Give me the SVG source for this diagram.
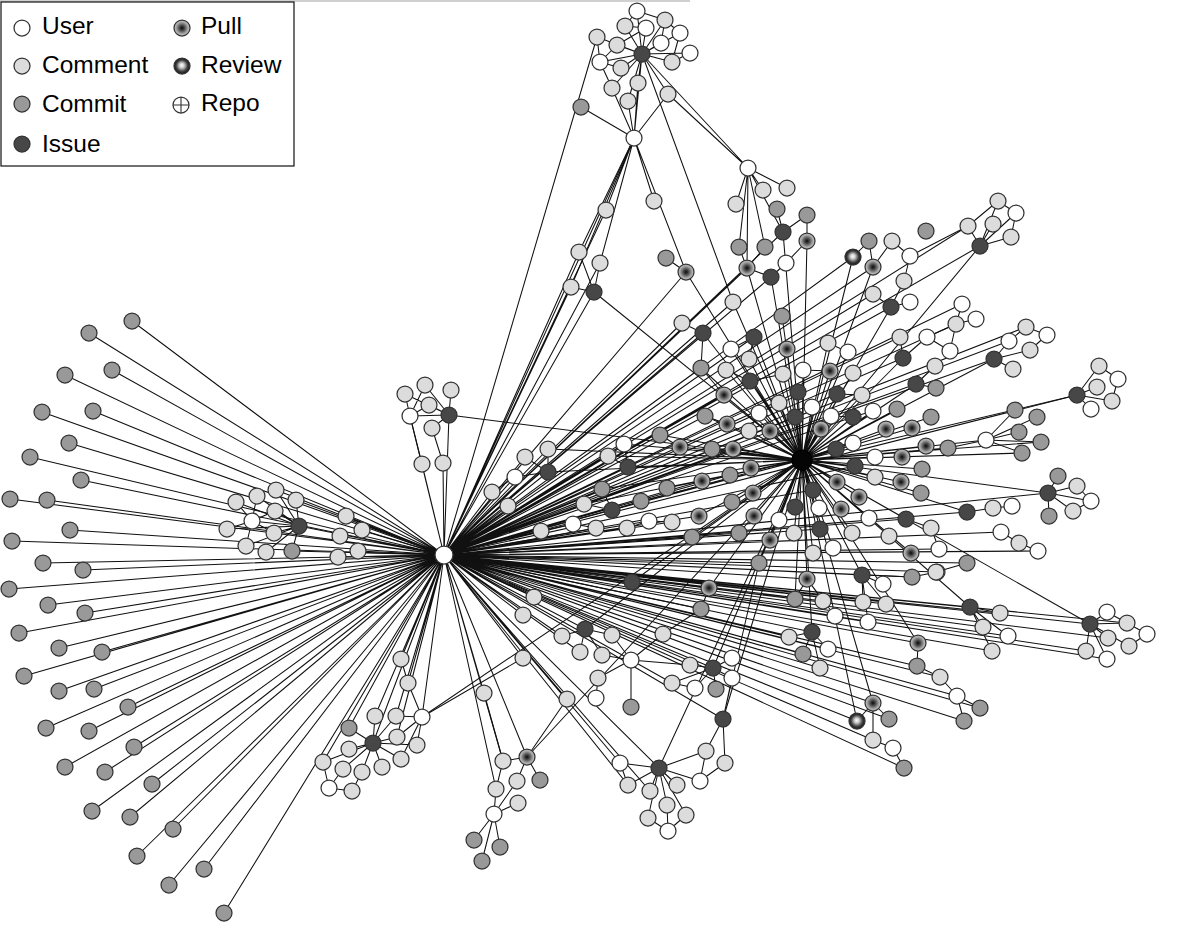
<svg xmlns="http://www.w3.org/2000/svg" width="1200" height="928" viewBox="0 0 1200 928">
<style>
.e{fill:none;stroke:#111;stroke-width:1.05}
circle{stroke:#333;stroke-width:1.25}
.u{fill:#fff}.c{fill:#dcdcdc}.m{fill:#999}.i{fill:#474747}.p{fill:url(#gp)}.r{fill:url(#gr)}.h{fill:#050505;stroke:#000}
.lt{font-family:"Liberation Sans",Arial,sans-serif;font-size:24.5px;fill:#000}
</style>
<defs>
<radialGradient id="gp" cx="0.5" cy="0.5" r="0.5"><stop offset="0" stop-color="#0a0a0a"/><stop offset="0.3" stop-color="#444"/><stop offset="0.75" stop-color="#a8a8a8"/><stop offset="1" stop-color="#c6c6c6"/></radialGradient>
<radialGradient id="gr" cx="0.5" cy="0.5" r="0.5" fx="0.48" fy="0.45"><stop offset="0" stop-color="#fff"/><stop offset="0.3" stop-color="#ccc"/><stop offset="0.7" stop-color="#444"/><stop offset="1" stop-color="#111"/></radialGradient>
</defs>
<rect width="1200" height="928" fill="#fff"/>
<line x1="0" y1="1" x2="690" y2="1" stroke="#d0d0d0" stroke-width="2"/>
<g id="connectors">
<path class="e" d="M444 555L132 321M444 555L89 333M444 555L112 370M444 555L65 375M444 555L93 411M444 555L42 412M444 555L69 443M444 555L30 457M444 555L81 480M444 555L10 499M444 555L47 500M444 555L70 530M444 555L12 541M444 555L43 563M444 555L83 570M444 555L9 589M444 555L48 605M444 555L85 613M444 555L19 633M444 555L59 648M444 555L102 652M444 555L24 676M444 555L59 691M444 555L94 689M444 555L128 707M444 555L46 728M444 555L89 731M444 555L134 747M444 555L65 767M444 555L105 772M444 555L152 784M444 555L92 811M444 555L130 817M444 555L173 829M444 555L137 856M444 555L204 869M444 555L169 885M444 555L224 913"/>
<path class="e" d="M444 555L346 516M444 555L362 530M444 555L340 536M444 555L358 551M444 555L338 557M444 555L299 526M444 555L296 500M444 555L276 490M444 555L292 551M444 555L410 416M444 555L449 415M444 555L422 464M444 555L443 463M444 555L401 659M444 555L408 683M444 555L422 717M444 555L349 728M444 555L375 716M444 555L396 716M444 555L373 743M444 555L323 762M444 555L397 737M444 555L484 693M444 555L503 761M444 555L527 757M444 555L496 789M444 555L523 615M444 555L523 658M444 555L534 597M444 555L567 699M444 555L585 629M444 555L562 636M444 555L632 582M444 555L580 652M444 555L713 668M444 555L723 719M444 555L690 665M444 555L672 683M444 555L620 763M444 555L659 768M444 555L628 785M444 555L650 791"/>
<path class="e" d="M444 555L857 721M444 555L873 740M444 555L812 632M444 555L862 575M444 555L789 637M444 555L863 602M444 555L889 719M444 555L873 703M444 555L918 643M444 555L807 579M444 555L795 599M444 555L886 604M444 555L868 622M444 555L835 616M444 555L823 601M444 555L803 654M444 555L828 649M444 555L820 668M444 555L957 696M444 555L904 768M444 555L940 677M444 555L917 666M444 555L964 721M444 555L980 708M444 555L1048 493M444 555L967 512M444 555L1090 624M444 555L970 607M444 555L1001 532M444 555L1038 551M444 555L967 563M444 555L1086 651M444 555L939 549M444 555L912 577M444 555L936 572M444 555L1108 638M444 555L983 627M444 555L1000 613M444 555L992 651M444 555L1008 636M444 555L1107 659M444 555L1127 623M444 555L813 490M444 555L820 529M444 555L855 466M444 555L836 449M444 555L906 519"/>
<path class="e" d="M444 555L980 246M444 555L891 307M444 555L903 358M444 555L916 384M444 555L994 359M444 555L1077 395M444 555L853 257M444 555L873 267M444 555L900 337M444 555L873 294M444 555L956 324M444 555L962 304M444 555L1009 341M444 555L1026 327M444 555L968 226M444 555L837 394M444 555L853 417M444 555L597 37M444 555L634 138M444 555L606 210M444 555L579 252M444 555L571 287M444 555L594 292M444 555L600 263M444 555L492 492M444 555L508 506M444 555L515 477M444 555L525 457M444 555L548 449M444 555L548 472M444 555L541 531M444 555L573 524M444 555L596 528M444 555L584 504M444 555L612 510M444 555L602 489M444 555L627 528M444 555L649 521M444 555L672 522M444 555L628 467M444 555L608 456M444 555L624 444M444 555L660 435M444 555L682 323M444 555L703 333M444 555L754 337M444 555L750 381M444 555L795 417M444 555L798 392M444 555L699 516M444 555L692 537M444 555L739 533M444 555L770 540M444 555L702 481M444 555L730 475M444 555L733 449M444 555L705 416M444 555L724 395M444 555L701 368M444 555L733 302M444 555L686 272M444 555L747 268M444 555L771 277M444 555L783 232M444 555L759 563M444 555L709 588M444 555L701 609"/>
<path class="e" d="M802 460L836 449M802 460L853 443M802 460L875 457M802 460L902 457M802 460L926 446M802 460L948 448M802 460L986 440M802 460L855 466M802 460L875 477M802 460L901 482M802 460L922 469M802 460L921 493M802 460L813 490M802 460L837 482M802 460L859 497M802 460L841 509M802 460L819 508M802 460L869 518M802 460L906 519M802 460L820 529M802 460L852 533M802 460L813 553M802 460L833 548M802 460L911 553M802 460L967 512M802 460L1048 493M802 460L1090 624M802 460L970 607M802 460L1022 453M802 460L1041 442M802 460L807 579M802 460L862 575M802 460L812 632M802 460L918 643M802 460L873 703M802 460L857 721M802 460L795 599M802 460L759 563M802 460L709 588M802 460L632 582M802 460L585 629M802 460L713 668M802 460L723 719M802 460L659 768M802 460L527 757M802 460L422 717M802 460L449 415"/>
<path class="e" d="M802 460L853 257M802 460L873 267M802 460L891 307M802 460L903 358M802 460L916 384M802 460L994 359M802 460L1077 395M802 460L980 246M802 460L830 371M802 460L853 373M802 460L848 352M802 460L828 343M802 460L803 370M802 460L837 394M802 460L862 395M802 460L812 407M802 460L831 416M802 460L853 417M802 460L873 411M802 460L897 409M802 460L931 417M802 460L886 429M802 460L912 428M802 460L821 429M802 460L798 392M802 460L807 241M802 460L783 232M802 460L771 277M802 460L747 268M802 460L686 272M802 460L594 292M802 460L782 316M802 460L787 349M802 460L754 337M802 460L703 333M802 460L731 349M802 460L733 302M802 460L701 368M802 460L750 381M802 460L724 395M802 460L779 403M802 460L759 413M802 460L795 417M802 460L705 416M802 460L727 424M802 460L749 431M802 460L770 431M802 460L783 374M802 460L726 370M802 460L749 359M802 460L660 435M802 460L680 447M802 460L712 449M802 460L733 449M802 460L628 467M802 460L624 444M802 460L608 456M802 460L548 472M802 460L730 475M802 460L751 468M802 460L702 481M802 460L667 488M802 460L602 489M802 460L641 501M802 460L612 510M802 460L732 502M802 460L753 493M802 460L699 516M802 460L692 537M802 460L739 533M802 460L754 516M802 460L779 520M802 460L770 540M802 460L795 507M802 460L794 533M802 460L584 504M802 460L548 449"/>
<path class="e" d="M299 526L236 502M299 526L257 496M299 526L276 490M299 526L296 500M299 526L275 511M299 526L227 529M299 526L274 533M299 526L246 546M299 526L266 552M299 526L292 551M299 526L252 521M252 521L236 502M252 521L257 496M252 521L227 529M252 521L246 546M252 521L275 511M252 521L274 533M449 415L425 385M449 415L451 390M449 415L429 405M449 415L432 428M449 415L405 394M410 416L405 394M410 416L425 385M410 416L429 405M410 416L449 415M410 416L422 464M432 428L443 463M373 743L349 728M373 743L375 716M373 743L396 716M373 743L349 749M373 743L397 737M373 743L417 745M373 743L343 769M373 743L362 772M373 743L382 767M373 743L401 759M373 743L323 762M329 788L323 762M329 788L343 769M329 788L352 791M352 791L362 772M422 717L396 716M422 717L397 737M422 717L417 745M422 717L401 759M422 717L408 683M401 659L408 683M422 717L523 658M527 757L503 761M527 757L540 780M527 757L517 781M527 757L567 699M494 814L496 789M494 814L517 781M494 814L518 803M494 814L474 840M494 814L500 847M494 814L482 861M484 693L503 761M503 761L496 789"/>
<path class="e" d="M585 629L562 636M585 629L612 635M585 629L580 652M585 629L602 655M631 660L612 635M631 660L602 655M631 660L598 678M631 660L631 707M631 660L663 634M596 698L598 678M663 634L701 609M701 609L709 588M631 660L690 665M713 668L690 665M713 668L732 658M713 668L672 683M713 668L695 688M713 668L716 689M713 668L732 678M695 688L672 683M723 719L732 678M723 719L706 751M723 719L725 763M723 719L759 563M659 768L620 763M659 768L628 785M659 768L650 791M659 768L677 785M659 768L700 781M659 768L706 751M659 768L667 805M659 768L648 818M659 768L686 815M668 831L648 818M668 831L686 815M668 831L667 805M700 781L706 751M700 781L725 763M620 763L628 785M807 579L795 599M807 579L823 601M807 579L835 616M862 575L883 584M862 575L863 602M862 575L886 604M862 575L868 622M862 575L912 577M937 572L912 577M812 632L789 637M812 632L803 654M812 632L828 649M812 632L820 668M918 643L917 666M917 666L940 677M940 677L957 696M957 696L980 708M957 696L964 721M873 703L857 721M873 703L889 719M873 703L873 740M873 740L893 748M893 748L904 768"/>
<path class="e" d="M1048 493L1058 476M1048 493L1077 486M1048 493L1091 501M1048 493L1073 511M1048 493L1049 516M1091 501L1077 486M1091 501L1073 511M967 512L993 508M993 508L1012 506M906 519L931 528M931 528L939 549M1001 532L1019 543M1019 543L1038 551M967 563L936 572M970 607L1000 613M970 607L983 627M970 607L1008 636M970 607L992 651M1090 624L1107 612M1090 624L1127 623M1090 624L1108 638M1090 624L1129 646M1090 624L1086 651M1090 624L1107 659M1147 634L1127 623M1147 634L1129 646M1107 612L1127 623M986 440L1015 410M986 440L1037 417M986 440L1019 432M986 440L1041 442M986 440L1022 453M986 440L948 448M980 246L968 226M980 246L998 201M980 246L993 224M980 246L1011 237M980 246L1016 213M1016 213L998 201M1016 213L1011 237M968 226L998 201M910 256L968 226M910 256L892 241M910 256L904 281M891 307L873 294M891 307L910 302M891 307L904 281M853 257L869 241M873 267L869 241M873 267L892 241M903 358L900 337M903 358L927 337M927 337L956 324M962 304L956 324M976 319L956 324M950 351L927 337M956 324L950 351M916 384L936 388M916 384L935 366M994 359L1009 341M994 359L1013 369M994 359L1030 350M1047 335L1026 327M1047 335L1030 350M1009 341L1026 327M1077 395L1099 366M1077 395L1097 387M1077 395L1112 401M1077 395L1091 409M1118 379L1099 366M1118 379L1112 401M837 394L862 395M853 417L873 411M853 417L831 416M828 343L848 352M830 371L803 370"/>
<path class="e" d="M642 54L637 11M642 54L625 26M642 54L665 20M642 54L646 28M642 54L680 33M642 54L597 37M642 54L617 45M642 54L661 43M642 54L690 53M642 54L600 62M642 54L621 68M642 54L672 62M642 54L612 88M642 54L638 83M642 54L628 101M642 54L668 94M642 54L634 138M642 54L748 168M642 54L733 302M637 11L625 26M637 11L665 20M646 28L625 26M646 28L617 45M680 33L665 20M680 33L672 62M661 43L665 20M690 53L672 62M600 62L597 37M600 62L617 45M600 62L612 88M600 62L621 68M634 138L612 88M634 138L628 101M634 138L638 83M634 138L668 94M634 138L581 107M634 138L606 210M634 138L600 263M634 138L571 287M634 138L579 252M634 138L654 201M634 138L686 272M668 94L748 168M748 168L763 190M748 168L787 188M748 168L736 204M748 168L739 247M748 168L765 247M748 168L783 232M748 168L747 268M777 209L783 232M783 232L807 215M807 241L807 215M807 241L786 263M771 277L786 263M771 277L747 268M747 268L739 247M747 268L765 247M666 258L686 272M579 252L594 292M600 263L594 292M571 287L594 292M680 447L660 435M733 449L712 449M628 467L608 456M628 467L624 444M548 472L525 457M548 472L548 449M548 472L515 477M612 510L584 504M612 510L641 501M612 510L602 489M703 333L682 323M703 333L701 368M754 337L749 359M754 337L731 349M750 381L726 370M750 381L783 374M759 413L779 403M759 413L749 431M727 424L705 416M724 395L701 368M649 521L627 528M649 521L672 522M573 524L541 531M573 524L596 528M515 477L492 492"/>
</g>
<g id="nodes">
<g id="n001"><circle class="m" cx="132" cy="321" r="8"/></g>
<g id="n002"><circle class="m" cx="89" cy="333" r="8"/></g>
<g id="n003"><circle class="m" cx="112" cy="370" r="8"/></g>
<g id="n004"><circle class="m" cx="65" cy="375" r="8"/></g>
<g id="n005"><circle class="m" cx="93" cy="411" r="8"/></g>
<g id="n006"><circle class="m" cx="42" cy="412" r="8"/></g>
<g id="n007"><circle class="m" cx="69" cy="443" r="8"/></g>
<g id="n008"><circle class="m" cx="30" cy="457" r="8"/></g>
<g id="n009"><circle class="m" cx="81" cy="480" r="8"/></g>
<g id="n010"><circle class="m" cx="10" cy="499" r="8"/></g>
<g id="n011"><circle class="m" cx="47" cy="500" r="8"/></g>
<g id="n012"><circle class="m" cx="70" cy="530" r="8"/></g>
<g id="n013"><circle class="m" cx="12" cy="541" r="8"/></g>
<g id="n014"><circle class="m" cx="43" cy="563" r="8"/></g>
<g id="n015"><circle class="m" cx="83" cy="570" r="8"/></g>
<g id="n016"><circle class="m" cx="9" cy="589" r="8"/></g>
<g id="n017"><circle class="m" cx="48" cy="605" r="8"/></g>
<g id="n018"><circle class="m" cx="85" cy="613" r="8"/></g>
<g id="n019"><circle class="m" cx="19" cy="633" r="8"/></g>
<g id="n020"><circle class="m" cx="59" cy="648" r="8"/></g>
<g id="n021"><circle class="m" cx="102" cy="652" r="8"/></g>
<g id="n022"><circle class="m" cx="24" cy="676" r="8"/></g>
<g id="n023"><circle class="m" cx="59" cy="691" r="8"/></g>
<g id="n024"><circle class="m" cx="94" cy="689" r="8"/></g>
<g id="n025"><circle class="m" cx="128" cy="707" r="8"/></g>
<g id="n026"><circle class="m" cx="46" cy="728" r="8"/></g>
<g id="n027"><circle class="m" cx="89" cy="731" r="8"/></g>
<g id="n028"><circle class="m" cx="134" cy="747" r="8"/></g>
<g id="n029"><circle class="m" cx="65" cy="767" r="8"/></g>
<g id="n030"><circle class="m" cx="105" cy="772" r="8"/></g>
<g id="n031"><circle class="m" cx="152" cy="784" r="8"/></g>
<g id="n032"><circle class="m" cx="92" cy="811" r="8"/></g>
<g id="n033"><circle class="m" cx="130" cy="817" r="8"/></g>
<g id="n034"><circle class="m" cx="173" cy="829" r="8"/></g>
<g id="n035"><circle class="m" cx="137" cy="856" r="8"/></g>
<g id="n036"><circle class="m" cx="204" cy="869" r="8"/></g>
<g id="n037"><circle class="m" cx="169" cy="885" r="8"/></g>
<g id="n038"><circle class="m" cx="224" cy="913" r="8"/></g>
<g id="n039"><circle class="c" cx="236" cy="502" r="8"/></g>
<g id="n040"><circle class="c" cx="257" cy="496" r="8"/></g>
<g id="n041"><circle class="c" cx="276" cy="490" r="8"/></g>
<g id="n042"><circle class="c" cx="296" cy="500" r="8"/></g>
<g id="n043"><circle class="c" cx="275" cy="511" r="8"/></g>
<g id="n044"><circle class="u" cx="252" cy="521" r="8"/></g>
<g id="n045"><circle class="c" cx="227" cy="529" r="8"/></g>
<g id="n046"><circle class="i" cx="299" cy="526" r="8"/></g>
<g id="n047"><circle class="c" cx="274" cy="533" r="8"/></g>
<g id="n048"><circle class="c" cx="246" cy="546" r="8"/></g>
<g id="n049"><circle class="c" cx="266" cy="552" r="8"/></g>
<g id="n050"><circle class="m" cx="292" cy="551" r="8"/></g>
<g id="n051"><circle class="c" cx="346" cy="516" r="8"/></g>
<g id="n052"><circle class="c" cx="362" cy="530" r="8"/></g>
<g id="n053"><circle class="c" cx="340" cy="536" r="8"/></g>
<g id="n054"><circle class="c" cx="358" cy="551" r="8"/></g>
<g id="n055"><circle class="c" cx="338" cy="557" r="8"/></g>
<g id="n056"><circle class="c" cx="405" cy="394" r="8"/></g>
<g id="n057"><circle class="c" cx="425" cy="385" r="8"/></g>
<g id="n058"><circle class="c" cx="451" cy="390" r="8"/></g>
<g id="n059"><circle class="c" cx="429" cy="405" r="8"/></g>
<g id="n060"><circle class="u" cx="410" cy="416" r="8"/></g>
<g id="n061"><circle class="i" cx="449" cy="415" r="8"/></g>
<g id="n062"><circle class="c" cx="432" cy="428" r="8"/></g>
<g id="n063"><circle class="c" cx="422" cy="464" r="8"/></g>
<g id="n064"><circle class="c" cx="443" cy="463" r="8"/></g>
<g id="n065"><circle class="c" cx="401" cy="659" r="8"/></g>
<g id="n066"><circle class="c" cx="408" cy="683" r="8"/></g>
<g id="n067"><circle class="u" cx="422" cy="717" r="8"/></g>
<g id="n068"><circle class="m" cx="349" cy="728" r="8"/></g>
<g id="n069"><circle class="c" cx="375" cy="716" r="8"/></g>
<g id="n070"><circle class="c" cx="396" cy="716" r="8"/></g>
<g id="n071"><circle class="i" cx="373" cy="743" r="8"/></g>
<g id="n072"><circle class="c" cx="349" cy="749" r="8"/></g>
<g id="n073"><circle class="c" cx="397" cy="737" r="8"/></g>
<g id="n074"><circle class="c" cx="417" cy="745" r="8"/></g>
<g id="n075"><circle class="c" cx="323" cy="762" r="8"/></g>
<g id="n076"><circle class="c" cx="343" cy="769" r="8"/></g>
<g id="n077"><circle class="c" cx="362" cy="772" r="8"/></g>
<g id="n078"><circle class="c" cx="382" cy="767" r="8"/></g>
<g id="n079"><circle class="c" cx="401" cy="759" r="8"/></g>
<g id="n080"><circle class="u" cx="329" cy="788" r="8"/></g>
<g id="n081"><circle class="c" cx="352" cy="791" r="8"/></g>
<g id="n082"><circle class="c" cx="534" cy="597" r="8"/></g>
<g id="n083"><circle class="c" cx="523" cy="615" r="8"/></g>
<g id="n084"><circle class="c" cx="523" cy="658" r="8"/></g>
<g id="n085"><circle class="c" cx="484" cy="693" r="8"/></g>
<g id="n086"><circle class="c" cx="567" cy="699" r="8"/></g>
<g id="n087"><circle class="c" cx="503" cy="761" r="8"/></g>
<g id="n088"><circle class="p" cx="527" cy="757" r="8"/></g>
<g id="n089"><circle class="m" cx="540" cy="780" r="8"/></g>
<g id="n090"><circle class="c" cx="496" cy="789" r="8"/></g>
<g id="n091"><circle class="c" cx="517" cy="781" r="8"/></g>
<g id="n092"><circle class="c" cx="518" cy="803" r="8"/></g>
<g id="n093"><circle class="u" cx="494" cy="814" r="8"/></g>
<g id="n094"><circle class="m" cx="474" cy="840" r="8"/></g>
<g id="n095"><circle class="m" cx="500" cy="847" r="8"/></g>
<g id="n096"><circle class="m" cx="482" cy="861" r="8"/></g>
<g id="n097"><circle class="i" cx="585" cy="629" r="8"/></g>
<g id="n098"><circle class="c" cx="562" cy="636" r="8"/></g>
<g id="n099"><circle class="c" cx="612" cy="635" r="8"/></g>
<g id="n100"><circle class="c" cx="580" cy="652" r="8"/></g>
<g id="n101"><circle class="c" cx="602" cy="655" r="8"/></g>
<g id="n102"><circle class="u" cx="631" cy="660" r="8"/></g>
<g id="n103"><circle class="c" cx="598" cy="678" r="8"/></g>
<g id="n104"><circle class="u" cx="596" cy="698" r="8"/></g>
<g id="n105"><circle class="m" cx="631" cy="707" r="8"/></g>
<g id="n106"><circle class="c" cx="663" cy="634" r="8"/></g>
<g id="n107"><circle class="m" cx="701" cy="609" r="8"/></g>
<g id="n108"><circle class="i" cx="632" cy="582" r="8"/></g>
<g id="n109"><circle class="p" cx="709" cy="588" r="8"/></g>
<g id="n110"><circle class="m" cx="759" cy="563" r="8"/></g>
<g id="n111"><circle class="c" cx="690" cy="665" r="8"/></g>
<g id="n112"><circle class="i" cx="713" cy="668" r="8"/></g>
<g id="n113"><circle class="u" cx="732" cy="658" r="8"/></g>
<g id="n114"><circle class="c" cx="672" cy="683" r="8"/></g>
<g id="n115"><circle class="u" cx="695" cy="688" r="8"/></g>
<g id="n116"><circle class="m" cx="716" cy="689" r="8"/></g>
<g id="n117"><circle class="u" cx="732" cy="678" r="8"/></g>
<g id="n118"><circle class="i" cx="723" cy="719" r="8"/></g>
<g id="n119"><circle class="u" cx="620" cy="763" r="8"/></g>
<g id="n120"><circle class="i" cx="659" cy="768" r="8"/></g>
<g id="n121"><circle class="c" cx="628" cy="785" r="8"/></g>
<g id="n122"><circle class="c" cx="650" cy="791" r="8"/></g>
<g id="n123"><circle class="c" cx="677" cy="785" r="8"/></g>
<g id="n124"><circle class="u" cx="700" cy="781" r="8"/></g>
<g id="n125"><circle class="c" cx="706" cy="751" r="8"/></g>
<g id="n126"><circle class="c" cx="725" cy="763" r="8"/></g>
<g id="n127"><circle class="c" cx="667" cy="805" r="8"/></g>
<g id="n128"><circle class="c" cx="648" cy="818" r="8"/></g>
<g id="n129"><circle class="c" cx="686" cy="815" r="8"/></g>
<g id="n130"><circle class="u" cx="668" cy="831" r="8"/></g>
<g id="n131"><circle class="p" cx="807" cy="579" r="8"/></g>
<g id="n132"><circle class="i" cx="862" cy="575" r="8"/></g>
<g id="n133"><circle class="u" cx="883" cy="584" r="8"/></g>
<g id="n134"><circle class="m" cx="912" cy="577" r="8"/></g>
<g id="n135"><circle class="c" cx="937" cy="572" r="8"/></g>
<g id="n136"><circle class="m" cx="795" cy="599" r="8"/></g>
<g id="n137"><circle class="c" cx="823" cy="601" r="8"/></g>
<g id="n138"><circle class="u" cx="835" cy="616" r="8"/></g>
<g id="n139"><circle class="c" cx="863" cy="602" r="8"/></g>
<g id="n140"><circle class="c" cx="886" cy="604" r="8"/></g>
<g id="n141"><circle class="u" cx="868" cy="622" r="8"/></g>
<g id="n142"><circle class="c" cx="789" cy="637" r="8"/></g>
<g id="n143"><circle class="i" cx="812" cy="632" r="8"/></g>
<g id="n144"><circle class="m" cx="803" cy="654" r="8"/></g>
<g id="n145"><circle class="u" cx="828" cy="649" r="8"/></g>
<g id="n146"><circle class="c" cx="820" cy="668" r="8"/></g>
<g id="n147"><circle class="p" cx="918" cy="643" r="8"/></g>
<g id="n148"><circle class="m" cx="917" cy="666" r="8"/></g>
<g id="n149"><circle class="c" cx="940" cy="677" r="8"/></g>
<g id="n150"><circle class="u" cx="957" cy="696" r="8"/></g>
<g id="n151"><circle class="m" cx="980" cy="708" r="8"/></g>
<g id="n152"><circle class="m" cx="964" cy="721" r="8"/></g>
<g id="n153"><circle class="p" cx="873" cy="703" r="8"/></g>
<g id="n154"><circle class="r" cx="857" cy="721" r="8"/></g>
<g id="n155"><circle class="m" cx="889" cy="719" r="8"/></g>
<g id="n156"><circle class="c" cx="873" cy="740" r="8"/></g>
<g id="n157"><circle class="u" cx="893" cy="748" r="8"/></g>
<g id="n158"><circle class="m" cx="904" cy="768" r="8"/></g>
<g id="n159"><circle class="i" cx="836" cy="449" r="8"/></g>
<g id="n160"><circle class="u" cx="853" cy="443" r="8"/></g>
<g id="n161"><circle class="u" cx="875" cy="457" r="8"/></g>
<g id="n162"><circle class="p" cx="902" cy="457" r="8"/></g>
<g id="n163"><circle class="p" cx="926" cy="446" r="8"/></g>
<g id="n164"><circle class="m" cx="948" cy="448" r="8"/></g>
<g id="n165"><circle class="u" cx="986" cy="440" r="8"/></g>
<g id="n166"><circle class="m" cx="1022" cy="453" r="8"/></g>
<g id="n167"><circle class="m" cx="1041" cy="442" r="8"/></g>
<g id="n168"><circle class="m" cx="1015" cy="410" r="8"/></g>
<g id="n169"><circle class="m" cx="1037" cy="417" r="8"/></g>
<g id="n170"><circle class="m" cx="1019" cy="432" r="8"/></g>
<g id="n171"><circle class="i" cx="855" cy="466" r="8"/></g>
<g id="n172"><circle class="c" cx="875" cy="477" r="8"/></g>
<g id="n173"><circle class="p" cx="901" cy="482" r="8"/></g>
<g id="n174"><circle class="m" cx="922" cy="469" r="8"/></g>
<g id="n175"><circle class="m" cx="921" cy="493" r="8"/></g>
<g id="n176"><circle class="i" cx="813" cy="490" r="8"/></g>
<g id="n177"><circle class="p" cx="837" cy="482" r="8"/></g>
<g id="n178"><circle class="p" cx="859" cy="497" r="8"/></g>
<g id="n179"><circle class="p" cx="841" cy="509" r="8"/></g>
<g id="n180"><circle class="u" cx="819" cy="508" r="8"/></g>
<g id="n181"><circle class="u" cx="869" cy="518" r="8"/></g>
<g id="n182"><circle class="i" cx="906" cy="519" r="8"/></g>
<g id="n183"><circle class="c" cx="931" cy="528" r="8"/></g>
<g id="n184"><circle class="i" cx="967" cy="512" r="8"/></g>
<g id="n185"><circle class="c" cx="993" cy="508" r="8"/></g>
<g id="n186"><circle class="u" cx="1012" cy="506" r="8"/></g>
<g id="n187"><circle class="i" cx="1048" cy="493" r="8"/></g>
<g id="n188"><circle class="m" cx="1058" cy="476" r="8"/></g>
<g id="n189"><circle class="c" cx="1077" cy="486" r="8"/></g>
<g id="n190"><circle class="u" cx="1091" cy="501" r="8"/></g>
<g id="n191"><circle class="c" cx="1073" cy="511" r="8"/></g>
<g id="n192"><circle class="m" cx="1049" cy="516" r="8"/></g>
<g id="n193"><circle class="i" cx="820" cy="529" r="8"/></g>
<g id="n194"><circle class="c" cx="852" cy="533" r="8"/></g>
<g id="n195"><circle class="c" cx="889" cy="536" r="8"/></g>
<g id="n196"><circle class="c" cx="813" cy="553" r="8"/></g>
<g id="n197"><circle class="u" cx="833" cy="548" r="8"/></g>
<g id="n198"><circle class="p" cx="911" cy="553" r="8"/></g>
<g id="n199"><circle class="u" cx="939" cy="549" r="8"/></g>
<g id="n200"><circle class="c" cx="936" cy="572" r="8"/></g>
<g id="n201"><circle class="m" cx="967" cy="563" r="8"/></g>
<g id="n202"><circle class="u" cx="1001" cy="532" r="8"/></g>
<g id="n203"><circle class="c" cx="1019" cy="543" r="8"/></g>
<g id="n204"><circle class="u" cx="1038" cy="551" r="8"/></g>
<g id="n205"><circle class="i" cx="970" cy="607" r="8"/></g>
<g id="n206"><circle class="c" cx="1000" cy="613" r="8"/></g>
<g id="n207"><circle class="c" cx="983" cy="627" r="8"/></g>
<g id="n208"><circle class="u" cx="1008" cy="636" r="8"/></g>
<g id="n209"><circle class="c" cx="992" cy="651" r="8"/></g>
<g id="n210"><circle class="i" cx="1090" cy="624" r="8"/></g>
<g id="n211"><circle class="u" cx="1107" cy="612" r="8"/></g>
<g id="n212"><circle class="c" cx="1127" cy="623" r="8"/></g>
<g id="n213"><circle class="u" cx="1147" cy="634" r="8"/></g>
<g id="n214"><circle class="c" cx="1108" cy="638" r="8"/></g>
<g id="n215"><circle class="c" cx="1129" cy="646" r="8"/></g>
<g id="n216"><circle class="c" cx="1086" cy="651" r="8"/></g>
<g id="n217"><circle class="u" cx="1107" cy="659" r="8"/></g>
<g id="n218"><circle class="m" cx="807" cy="215" r="8"/></g>
<g id="n219"><circle class="p" cx="807" cy="241" r="8"/></g>
<g id="n220"><circle class="m" cx="869" cy="241" r="8"/></g>
<g id="n221"><circle class="c" cx="892" cy="241" r="8"/></g>
<g id="n222"><circle class="m" cx="926" cy="231" r="8"/></g>
<g id="n223"><circle class="r" cx="853" cy="257" r="8"/></g>
<g id="n224"><circle class="p" cx="873" cy="267" r="8"/></g>
<g id="n225"><circle class="u" cx="910" cy="256" r="8"/></g>
<g id="n226"><circle class="c" cx="904" cy="281" r="8"/></g>
<g id="n227"><circle class="c" cx="873" cy="294" r="8"/></g>
<g id="n228"><circle class="i" cx="891" cy="307" r="8"/></g>
<g id="n229"><circle class="u" cx="910" cy="302" r="8"/></g>
<g id="n230"><circle class="c" cx="968" cy="226" r="8"/></g>
<g id="n231"><circle class="c" cx="998" cy="201" r="8"/></g>
<g id="n232"><circle class="u" cx="1016" cy="213" r="8"/></g>
<g id="n233"><circle class="c" cx="993" cy="224" r="8"/></g>
<g id="n234"><circle class="i" cx="980" cy="246" r="8"/></g>
<g id="n235"><circle class="c" cx="1011" cy="237" r="8"/></g>
<g id="n236"><circle class="u" cx="962" cy="304" r="8"/></g>
<g id="n237"><circle class="u" cx="976" cy="319" r="8"/></g>
<g id="n238"><circle class="c" cx="956" cy="324" r="8"/></g>
<g id="n239"><circle class="c" cx="900" cy="337" r="8"/></g>
<g id="n240"><circle class="u" cx="927" cy="337" r="8"/></g>
<g id="n241"><circle class="u" cx="950" cy="351" r="8"/></g>
<g id="n242"><circle class="i" cx="903" cy="358" r="8"/></g>
<g id="n243"><circle class="c" cx="935" cy="366" r="8"/></g>
<g id="n244"><circle class="i" cx="916" cy="384" r="8"/></g>
<g id="n245"><circle class="m" cx="936" cy="388" r="8"/></g>
<g id="n246"><circle class="c" cx="1026" cy="327" r="8"/></g>
<g id="n247"><circle class="u" cx="1047" cy="335" r="8"/></g>
<g id="n248"><circle class="u" cx="1009" cy="341" r="8"/></g>
<g id="n249"><circle class="c" cx="1030" cy="350" r="8"/></g>
<g id="n250"><circle class="i" cx="994" cy="359" r="8"/></g>
<g id="n251"><circle class="c" cx="1013" cy="369" r="8"/></g>
<g id="n252"><circle class="c" cx="828" cy="343" r="8"/></g>
<g id="n253"><circle class="u" cx="848" cy="352" r="8"/></g>
<g id="n254"><circle class="u" cx="803" cy="370" r="8"/></g>
<g id="n255"><circle class="p" cx="830" cy="371" r="8"/></g>
<g id="n256"><circle class="c" cx="853" cy="373" r="8"/></g>
<g id="n257"><circle class="i" cx="798" cy="392" r="8"/></g>
<g id="n258"><circle class="i" cx="837" cy="394" r="8"/></g>
<g id="n259"><circle class="c" cx="862" cy="395" r="8"/></g>
<g id="n260"><circle class="u" cx="812" cy="407" r="8"/></g>
<g id="n261"><circle class="u" cx="831" cy="416" r="8"/></g>
<g id="n262"><circle class="i" cx="853" cy="417" r="8"/></g>
<g id="n263"><circle class="u" cx="873" cy="411" r="8"/></g>
<g id="n264"><circle class="m" cx="897" cy="409" r="8"/></g>
<g id="n265"><circle class="m" cx="931" cy="417" r="8"/></g>
<g id="n266"><circle class="p" cx="886" cy="429" r="8"/></g>
<g id="n267"><circle class="p" cx="912" cy="428" r="8"/></g>
<g id="n268"><circle class="p" cx="821" cy="429" r="8"/></g>
<g id="n269"><circle class="c" cx="1099" cy="366" r="8"/></g>
<g id="n270"><circle class="u" cx="1118" cy="379" r="8"/></g>
<g id="n271"><circle class="c" cx="1097" cy="387" r="8"/></g>
<g id="n272"><circle class="c" cx="1112" cy="401" r="8"/></g>
<g id="n273"><circle class="u" cx="1091" cy="409" r="8"/></g>
<g id="n274"><circle class="i" cx="1077" cy="395" r="8"/></g>
<g id="n275"><circle class="u" cx="637" cy="11" r="8"/></g>
<g id="n276"><circle class="c" cx="625" cy="26" r="8"/></g>
<g id="n277"><circle class="c" cx="665" cy="20" r="8"/></g>
<g id="n278"><circle class="u" cx="646" cy="28" r="8"/></g>
<g id="n279"><circle class="u" cx="680" cy="33" r="8"/></g>
<g id="n280"><circle class="c" cx="597" cy="37" r="8"/></g>
<g id="n281"><circle class="c" cx="617" cy="45" r="8"/></g>
<g id="n282"><circle class="u" cx="661" cy="43" r="8"/></g>
<g id="n283"><circle class="i" cx="642" cy="54" r="8"/></g>
<g id="n284"><circle class="u" cx="690" cy="53" r="8"/></g>
<g id="n285"><circle class="u" cx="600" cy="62" r="8"/></g>
<g id="n286"><circle class="c" cx="621" cy="68" r="8"/></g>
<g id="n287"><circle class="c" cx="672" cy="62" r="8"/></g>
<g id="n288"><circle class="c" cx="612" cy="88" r="8"/></g>
<g id="n289"><circle class="c" cx="638" cy="83" r="8"/></g>
<g id="n290"><circle class="c" cx="628" cy="101" r="8"/></g>
<g id="n291"><circle class="c" cx="668" cy="94" r="8"/></g>
<g id="n292"><circle class="m" cx="581" cy="107" r="8"/></g>
<g id="n293"><circle class="u" cx="634" cy="138" r="8"/></g>
<g id="n294"><circle class="u" cx="748" cy="168" r="8"/></g>
<g id="n295"><circle class="c" cx="763" cy="190" r="8"/></g>
<g id="n296"><circle class="c" cx="787" cy="188" r="8"/></g>
<g id="n297"><circle class="c" cx="736" cy="204" r="8"/></g>
<g id="n298"><circle class="m" cx="777" cy="209" r="8"/></g>
<g id="n299"><circle class="i" cx="783" cy="232" r="8"/></g>
<g id="n300"><circle class="m" cx="739" cy="247" r="8"/></g>
<g id="n301"><circle class="m" cx="765" cy="247" r="8"/></g>
<g id="n302"><circle class="p" cx="747" cy="268" r="8"/></g>
<g id="n303"><circle class="i" cx="771" cy="277" r="8"/></g>
<g id="n304"><circle class="u" cx="786" cy="263" r="8"/></g>
<g id="n305"><circle class="c" cx="654" cy="201" r="8"/></g>
<g id="n306"><circle class="c" cx="606" cy="210" r="8"/></g>
<g id="n307"><circle class="c" cx="579" cy="252" r="8"/></g>
<g id="n308"><circle class="c" cx="600" cy="263" r="8"/></g>
<g id="n309"><circle class="c" cx="571" cy="287" r="8"/></g>
<g id="n310"><circle class="i" cx="594" cy="292" r="8"/></g>
<g id="n311"><circle class="m" cx="666" cy="258" r="8"/></g>
<g id="n312"><circle class="p" cx="686" cy="272" r="8"/></g>
<g id="n313"><circle class="c" cx="733" cy="302" r="8"/></g>
<g id="n314"><circle class="c" cx="682" cy="323" r="8"/></g>
<g id="n315"><circle class="i" cx="703" cy="333" r="8"/></g>
<g id="n316"><circle class="u" cx="731" cy="349" r="8"/></g>
<g id="n317"><circle class="i" cx="754" cy="337" r="8"/></g>
<g id="n318"><circle class="m" cx="782" cy="316" r="8"/></g>
<g id="n319"><circle class="p" cx="787" cy="349" r="8"/></g>
<g id="n320"><circle class="m" cx="701" cy="368" r="8"/></g>
<g id="n321"><circle class="c" cx="726" cy="370" r="8"/></g>
<g id="n322"><circle class="c" cx="749" cy="359" r="8"/></g>
<g id="n323"><circle class="i" cx="750" cy="381" r="8"/></g>
<g id="n324"><circle class="c" cx="783" cy="374" r="8"/></g>
<g id="n325"><circle class="p" cx="724" cy="395" r="8"/></g>
<g id="n326"><circle class="c" cx="779" cy="403" r="8"/></g>
<g id="n327"><circle class="u" cx="759" cy="413" r="8"/></g>
<g id="n328"><circle class="i" cx="795" cy="417" r="8"/></g>
<g id="n329"><circle class="m" cx="705" cy="416" r="8"/></g>
<g id="n330"><circle class="p" cx="727" cy="424" r="8"/></g>
<g id="n331"><circle class="c" cx="749" cy="431" r="8"/></g>
<g id="n332"><circle class="p" cx="770" cy="431" r="8"/></g>
<g id="n333"><circle class="m" cx="660" cy="435" r="8"/></g>
<g id="n334"><circle class="p" cx="680" cy="447" r="8"/></g>
<g id="n335"><circle class="m" cx="712" cy="449" r="8"/></g>
<g id="n336"><circle class="p" cx="733" cy="449" r="8"/></g>
<g id="n337"><circle class="u" cx="624" cy="444" r="8"/></g>
<g id="n338"><circle class="c" cx="608" cy="456" r="8"/></g>
<g id="n339"><circle class="i" cx="628" cy="467" r="8"/></g>
<g id="n340"><circle class="c" cx="548" cy="449" r="8"/></g>
<g id="n341"><circle class="c" cx="525" cy="457" r="8"/></g>
<g id="n342"><circle class="u" cx="515" cy="477" r="8"/></g>
<g id="n343"><circle class="i" cx="548" cy="472" r="8"/></g>
<g id="n344"><circle class="c" cx="492" cy="492" r="8"/></g>
<g id="n345"><circle class="c" cx="508" cy="506" r="8"/></g>
<g id="n346"><circle class="m" cx="730" cy="475" r="8"/></g>
<g id="n347"><circle class="p" cx="751" cy="468" r="8"/></g>
<g id="n348"><circle class="p" cx="702" cy="481" r="8"/></g>
<g id="n349"><circle class="m" cx="667" cy="488" r="8"/></g>
<g id="n350"><circle class="m" cx="602" cy="489" r="8"/></g>
<g id="n351"><circle class="m" cx="641" cy="501" r="8"/></g>
<g id="n352"><circle class="c" cx="584" cy="504" r="8"/></g>
<g id="n353"><circle class="i" cx="612" cy="510" r="8"/></g>
<g id="n354"><circle class="m" cx="732" cy="502" r="8"/></g>
<g id="n355"><circle class="p" cx="753" cy="493" r="8"/></g>
<g id="n356"><circle class="c" cx="541" cy="531" r="8"/></g>
<g id="n357"><circle class="u" cx="573" cy="524" r="8"/></g>
<g id="n358"><circle class="c" cx="596" cy="528" r="8"/></g>
<g id="n359"><circle class="c" cx="627" cy="528" r="8"/></g>
<g id="n360"><circle class="u" cx="649" cy="521" r="8"/></g>
<g id="n361"><circle class="c" cx="672" cy="522" r="8"/></g>
<g id="n362"><circle class="p" cx="699" cy="516" r="8"/></g>
<g id="n363"><circle class="m" cx="692" cy="537" r="8"/></g>
<g id="n364"><circle class="m" cx="739" cy="533" r="8"/></g>
<g id="n365"><circle class="p" cx="754" cy="516" r="8"/></g>
<g id="n366"><circle class="u" cx="779" cy="520" r="8"/></g>
<g id="n367"><circle class="p" cx="770" cy="540" r="8"/></g>
<g id="n368"><circle class="i" cx="795" cy="507" r="8"/></g>
<g id="n369"><circle class="c" cx="794" cy="533" r="8"/></g>
<g id="hub-user"><circle class="u" cx="444" cy="555" r="9"/></g>
<g id="hub-black"><circle class="h" cx="802" cy="460" r="10"/></g>
</g>
<g id="legend">
<rect x="1" y="2" width="293" height="164" fill="#fff" stroke="#111" stroke-width="1.2"/>
<circle class="u" cx="22" cy="28" r="8"/><text class="lt" x="42" y="34">User</text>
<circle class="c" cx="22" cy="66" r="8"/><text class="lt" x="42" y="73">Comment</text>
<circle class="m" cx="22" cy="104" r="8"/><text class="lt" x="42" y="112">Commit</text>
<circle class="i" cx="22" cy="144" r="8"/><text class="lt" x="42" y="152">Issue</text>
<circle class="p" cx="182" cy="28" r="8"/><text class="lt" x="201" y="34">Pull</text>
<circle class="r" cx="182" cy="66" r="8"/><text class="lt" x="201" y="73">Review</text>
<circle class="u" cx="181" cy="105" r="8"/><path d="M173 105H189M181 97V113" stroke="#333" stroke-width="1.1" fill="none"/><text class="lt" x="201" y="111">Repo</text>
</g>
</svg>
